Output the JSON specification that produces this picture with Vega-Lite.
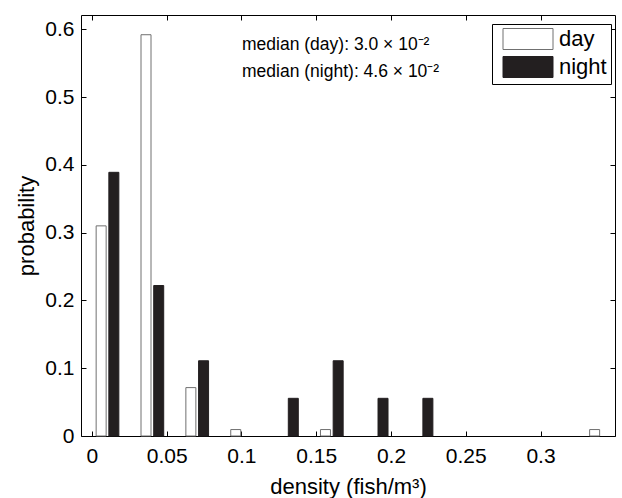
{
  "$schema": "https://vega.github.io/schema/vega-lite/v6.json",
  "width": 534,
  "height": 421,
  "autosize": "none",
  "padding": {"left": 81, "top": 15, "right": 7, "bottom": 62},
  "background": "white",
  "config": {
    "font": "Liberation Sans",
    "view": {"stroke": "black", "strokeWidth": 1},
    "axis": {
      "domain": false,
      "grid": false,
      "ticks": true,
      "tickSize": -5,
      "tickColor": "black",
      "tickWidth": 1,
      "labelFont": "Liberation Sans",
      "labelFontSize": 21,
      "labelColor": "black",
      "titleFont": "Liberation Sans",
      "titleFontSize": 22,
      "titleFontWeight": "normal",
      "titleColor": "black"
    }
  },
  "datasets": {
    "bars": [
      {"density": 0.01, "probability": 0.31, "series": "day"},
      {"density": 0.04, "probability": 0.592, "series": "day"},
      {"density": 0.07, "probability": 0.0714, "series": "day"},
      {"density": 0.10, "probability": 0.0095, "series": "day"},
      {"density": 0.16, "probability": 0.0095, "series": "day"},
      {"density": 0.34, "probability": 0.0095, "series": "day"},
      {"density": 0.01, "probability": 0.389, "series": "night"},
      {"density": 0.04, "probability": 0.222, "series": "night"},
      {"density": 0.07, "probability": 0.111, "series": "night"},
      {"density": 0.13, "probability": 0.0556, "series": "night"},
      {"density": 0.16, "probability": 0.111, "series": "night"},
      {"density": 0.19, "probability": 0.0556, "series": "night"},
      {"density": 0.22, "probability": 0.0556, "series": "night"}
    ],
    "notes": [
      {"density": 0.1004, "probability": 0.577, "label": "median (day): 3.0 × 10⁻²"},
      {"density": 0.1004, "probability": 0.537, "label": "median (night): 4.6 × 10⁻²"}
    ]
  },
  "layer": [
    {
      "data": {"name": "bars"},
      "transform": [{"filter": "datum.series == 'day'"}],
      "mark": {"type": "bar", "size": 10, "xOffset": -5.7, "strokeWidth": 1},
      "encoding": {
        "x": {
          "field": "density", "type": "quantitative",
          "scale": {"domain": [-0.00394, 0.34646], "nice": false, "zero": false},
          "axis": {"orient": "bottom", "values": [0, 0.05, 0.1, 0.15, 0.2, 0.25, 0.3], "format": "~g", "labelPadding": 14, "title": "density (fish/m³)", "titlePadding": 10}
        },
        "y": {
          "field": "probability", "type": "quantitative",
          "scale": {"domain": [0, 0.6211], "nice": false},
          "axis": {"orient": "left", "values": [0, 0.1, 0.2, 0.3, 0.4, 0.5, 0.6], "format": "~g", "labelPadding": 12, "title": "probability", "titlePadding": 6}
        },
        "fill": {
          "field": "series", "type": "nominal",
          "scale": {"domain": ["day", "night"], "range": ["white", "#231f20"]},
          "legend": {
            "title": null,
            "orient": "none",
            "legendX": 411,
            "legendY": 9,
            "direction": "vertical",
            "padding": 4,
            "strokeColor": "black",
            "fillColor": "white",
            "symbolType": "M-0.4,-1.05L4.6,-1.05L4.6,1.05L-0.4,1.05Z",
            "symbolSize": 400,
            "symbolStrokeWidth": 1,
            "labelFont": "Liberation Sans",
            "labelFontSize": 22,
            "labelColor": "black",
            "labelOffset": 41,
            "rowPadding": 2
          }
        },
        "stroke": {
          "field": "series", "type": "nominal",
          "scale": {"domain": ["day", "night"], "range": ["#707070", "#231f20"]},
          "legend": null
        }
      }
    },
    {
      "data": {"name": "bars"},
      "transform": [{"filter": "datum.series == 'night'"}],
      "mark": {"type": "bar", "size": 10, "xOffset": 7, "strokeWidth": 1},
      "encoding": {
        "x": {"field": "density", "type": "quantitative", "axis": null},
        "y": {"field": "probability", "type": "quantitative", "axis": null},
        "fill": {"field": "series", "type": "nominal"},
        "stroke": {"field": "series", "type": "nominal", "legend": null}
      }
    },
    {
      "data": {"name": "notes"},
      "mark": {"type": "text", "align": "left", "baseline": "middle", "fontSize": 17.5, "font": "Liberation Sans", "color": "black"},
      "encoding": {
        "x": {"field": "density", "type": "quantitative", "axis": {"orient": "top", "values": [0, 0.05, 0.1, 0.15, 0.2, 0.25, 0.3], "labels": false, "title": null}},
        "y": {"field": "probability", "type": "quantitative", "axis": {"orient": "right", "values": [0, 0.1, 0.2, 0.3, 0.4, 0.5, 0.6], "labels": false, "title": null}},
        "text": {"field": "label", "type": "nominal"}
      }
    }
  ],
  "resolve": {"axis": {"x": "independent", "y": "independent"}}
}
